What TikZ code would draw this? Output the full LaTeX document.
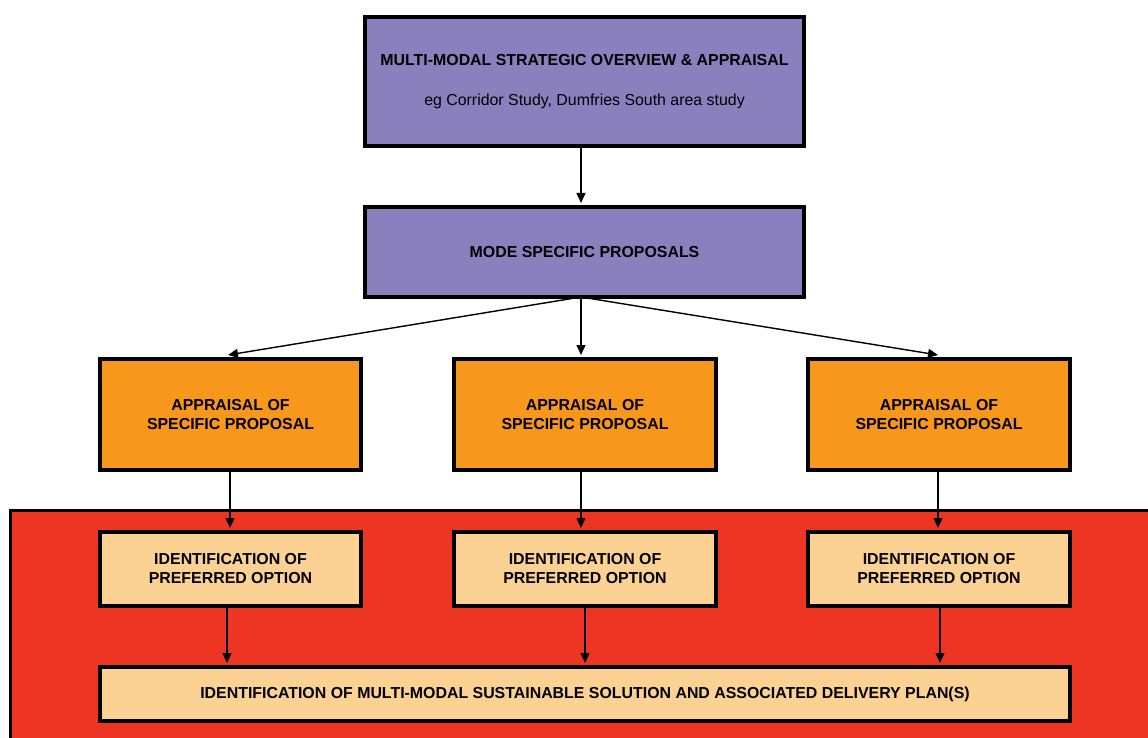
\documentclass[tikz,border=0pt]{standalone}
\usepackage{fontspec}
\setmainfont{Liberation Sans}
\usetikzlibrary{arrows.meta}

\definecolor{overview}{RGB}{139,128,190}
\definecolor{appraise}{RGB}{247,152,29}
\definecolor{preferred}{RGB}{252,210,148}
\definecolor{panelred}{RGB}{238,53,36}

\tikzset{
	stage/.style={draw=black, line width=4pt, inner sep=0pt, align=center,
		font=\bfseries\fontsize{15.9}{19}\selectfont},
	flow/.style={-{Triangle[length=10pt,width=9pt]}, line width=1.4pt}
}

\begin{document}
\begin{tikzpicture}[x=1pt, y=-1pt]
			%%%%% START %%%%%
			
			\clip (0, 0) rectangle (1148, 738);
			
			% red panel behind the lower boxes
			\draw[line width=3pt, fill=panelred] (10, 510) rectangle (1170, 760);
			
			\node[stage, fill=overview, minimum width=439pt, minimum height=129pt] (overview) at (584.5, 81.5)
				{MULTI-MODAL STRATEGIC OVERVIEW \& APPRAISAL\\[21pt]{\mdseries eg Corridor Study, Dumfries South area study}};
			\node[stage, fill=overview, minimum width=439pt, minimum height=90pt] (mode) at (584.5, 252) {MODE SPECIFIC PROPOSALS};
			
			\node[stage, fill=appraise, minimum width=261pt, minimum height=111pt] (apprA) at (230.5, 414.5) {APPRAISAL OF\\SPECIFIC PROPOSAL};
			\node[stage, fill=appraise, minimum width=262pt, minimum height=111pt] (apprB) at (585, 414.5) {APPRAISAL OF\\SPECIFIC PROPOSAL};
			\node[stage, fill=appraise, minimum width=262pt, minimum height=111pt] (apprC) at (939, 414.5) {APPRAISAL OF\\SPECIFIC PROPOSAL};
			
			\node[stage, fill=preferred, minimum width=261pt, minimum height=74pt] (prefA) at (230.5, 569) {IDENTIFICATION OF\\PREFERRED OPTION};
			\node[stage, fill=preferred, minimum width=262pt, minimum height=74pt] (prefB) at (585, 569) {IDENTIFICATION OF\\PREFERRED OPTION};
			\node[stage, fill=preferred, minimum width=262pt, minimum height=74pt] (prefC) at (939, 569) {IDENTIFICATION OF\\PREFERRED OPTION};
			
			\node[stage, fill=preferred, minimum width=970pt, minimum height=54pt] (solution) at (585, 694)
				{IDENTIFICATION OF MULTI-MODAL SUSTAINABLE SOLUTION AND ASSOCIATED DELIVERY PLAN(S)};
			
			% connectors
			\coordinate (fork) at ([xshift=-3.5pt, yshift=2pt]mode.south);
			\draw[flow] ([xshift=-3.5pt, yshift=2pt]overview.south) -- ([xshift=-3.5pt, yshift=2pt]mode.north);
			\draw[flow] (fork) -- ([xshift=-2.5pt, yshift=2pt]apprA.north);
			\draw[flow] (fork) -- ([xshift=-4pt, yshift=2pt]apprB.north);
			\draw[flow] (fork) -- ([xshift=-1pt, yshift=2pt]apprC.north);
			
			\draw[flow] ([xshift=-0.5pt, yshift=2pt]apprA.south) -- ([xshift=-0.5pt, yshift=2pt]prefA.north);
			\draw[flow] ([xshift=-4pt, yshift=2pt]apprB.south) -- ([xshift=-4pt, yshift=2pt]prefB.north);
			\draw[flow] ([xshift=-1pt, yshift=2pt]apprC.south) -- ([xshift=-1pt, yshift=2pt]prefC.north);
			
			\draw[flow] ([xshift=-3.5pt, yshift=2pt]prefA.south) -- ([xshift=-3.5pt, yshift=2pt]prefA.south |- solution.north);
			\draw[flow] ([yshift=2pt]prefB.south) -- ([yshift=2pt]prefB.south |- solution.north);
			\draw[flow] ([xshift=1pt, yshift=2pt]prefC.south) -- ([xshift=1pt, yshift=2pt]prefC.south |- solution.north);
			
			%%%%% END %%%%%
\end{tikzpicture}
\end{document}
